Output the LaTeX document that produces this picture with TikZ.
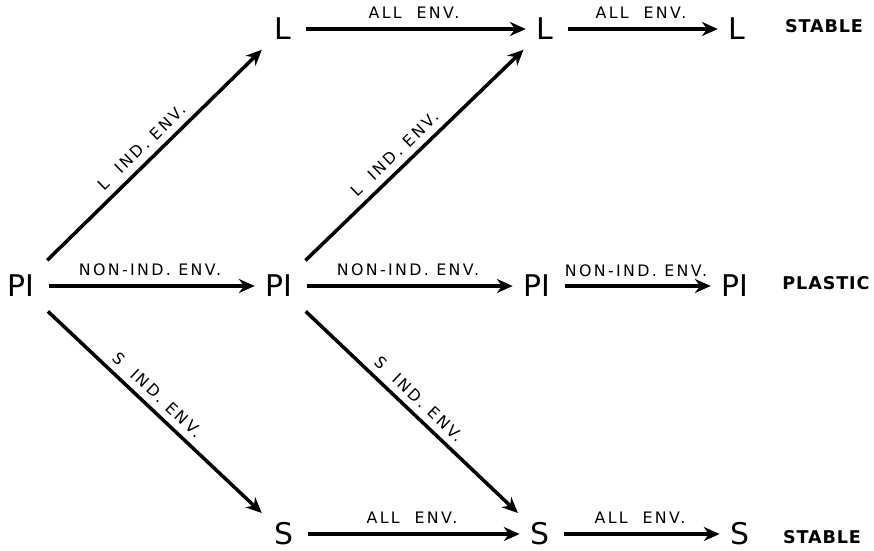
\documentclass[tikz,border=0pt]{standalone}
\usepackage{fontspec}
\setmainfont{DejaVu Sans}
\newfontfamily\envfont[LetterSpace=15]{DejaVu Sans}
\newfontfamily\fatefont[LetterSpace=5]{DejaVu Sans}
\usetikzlibrary{arrows.meta}
\pgfdeclarelayer{edgelayer}
\pgfdeclarelayer{nodelayer}
\pgfsetlayers{edgelayer,nodelayer,main}
\tikzstyle{none}=[inner sep=0pt]
\tikzstyle{stage}=[inner xsep=4pt,inner ysep=0.5pt,minimum width=1.7em,font=\fontsize{17}{20}\selectfont]
\tikzstyle{fate}=[inner sep=0pt,font=\fatefont\bfseries\fontsize{10}{12}\selectfont]
\tikzstyle{envlabel}=[inner sep=2pt,font=\envfont\fontsize{9}{11}\selectfont]
\tikzstyle{transition}=[-{Stealth[length=9pt,width=8pt]},draw=black,line width=2pt,shorten <=4pt,shorten >=2pt]
\tikzstyle{slanted}=[style=transition,shorten <=11pt,shorten >=7pt]

\begin{document}
\begin{tikzpicture}
	\useasboundingbox (0, 0) rectangle (17.48, -11.02);
	\begin{pgfonlayer}{nodelayer}
		\node [style=stage] (0) at (0.42, -5.72) {PI};
		\node [style=stage] (1) at (5.66, -0.58) {L};
		\node [style=stage] (2) at (5.58, -5.72) {PI};
		\node [style=stage] (3) at (5.68, -10.68) {S};
		\node [style=stage] (4) at (10.9, -0.58) {L};
		\node [style=stage] (5) at (10.74, -5.72) {PI};
		\node [style=stage] (6) at (10.8, -10.68) {S};
		\node [style=stage] (7) at (14.74, -0.58) {L};
		\node [style=stage] (8) at (14.7, -5.72) {PI};
		\node [style=stage] (9) at (14.8, -10.68) {S};
		\node [style=fate] (10) at (16.48, -0.52) {STABLE};
		\node [style=fate] (11) at (16.52, -5.66) {PLASTIC};
		\node [style=fate] (12) at (16.44, -10.74) {STABLE};
	\end{pgfonlayer}
	\begin{pgfonlayer}{edgelayer}
		\draw [style=slanted] (0) to node [style=envlabel, sloped, above=2pt, pos=0.5] {L\ \ IND. ENV.} (1);
		\draw [style=transition] (0) to node [style=envlabel, above, yshift=3pt] {NON-IND. ENV.} (2);
		\draw [style=slanted] (0) to node [style=envlabel, sloped, above=2pt, pos=0.48] {S\ \ IND. ENV.} (3);
		\draw [style=slanted] (2) to node [style=envlabel, sloped, above=2pt, pos=0.47] {L\ \ IND. ENV.} (4);
		\draw [style=transition] (2) to node [style=envlabel, above, yshift=3pt] {NON-IND. ENV.} (5);
		\draw [style=slanted] (2) to node [style=envlabel, sloped, above=2pt] {S\ \ IND. ENV.} (6);
		\draw [style=transition] (1) to node [style=envlabel, above, yshift=3pt] {ALL\ \ ENV.} (4);
		\draw [style=transition] (4) to node [style=envlabel, above, yshift=3pt] {ALL\ \ ENV.} (7);
		\draw [style=transition] (5) to node [style=envlabel, above, yshift=2pt] {NON-IND. ENV.} (8);
		\draw [style=transition] (3) to node [style=envlabel, above, yshift=3pt] {ALL\ \ ENV.} (6);
		\draw [style=transition] (6) to node [style=envlabel, above, yshift=3pt] {ALL\ \ ENV.} (9);
	\end{pgfonlayer}
\end{tikzpicture}
\end{document}
